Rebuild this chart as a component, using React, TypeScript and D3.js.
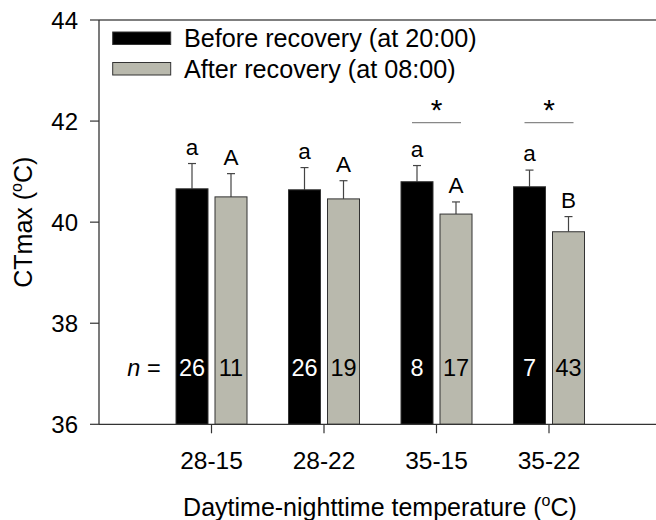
import React from "react";
import * as d3 from "d3";

const categories = ["28-15", "28-22", "35-15", "35-22"];
const seriesNames = ["Before recovery (at 20:00)", "After recovery (at 08:00)"];
const beforeMeans = [40.66, 40.64, 40.8, 40.7];
const beforeErr = [0.5, 0.44, 0.32, 0.33];
const afterMeans = [40.5, 40.46, 40.16, 39.81];
const afterErr = [0.46, 0.36, 0.24, 0.3];
const beforeLetters = ["a", "a", "a", "a"];
const afterLetters = ["A", "A", "A", "B"];
const beforeN = ["26", "26", "8", "7"];
const afterN = ["11", "19", "17", "43"];
const significant = [false, false, true, true];
const yTicks = [36, 38, 40, 42, 44];

const W = 656;
const H = 520;
const left = 99;
const top = 20;
const bottom = 424.3;
const right = 661.5;

const FONT = "'Liberation Sans', Arial, Helvetica, sans-serif";
const BLACK = "#000000";
const GRAY = "#b9b9ad";

export default function App() {
  const y = d3.scaleLinear().domain([36, 44]).range([bottom, top]);
  const xPos = d3.scaleLinear().domain([0, 5]).range([left, right]);
  const sub = d3
    .scaleBand<string>()
    .domain(["before", "after"])
    .range([-35.5, 35.5])
    .paddingInner(7 / 39);
  const bw = sub.bandwidth();
  const cap = 4;

  const series = [
    { key: "before", means: beforeMeans, errs: beforeErr, letters: beforeLetters, ns: beforeN, fill: BLACK, nColor: "#ffffff" },
    { key: "after", means: afterMeans, errs: afterErr, letters: afterLetters, ns: afterN, fill: GRAY, nColor: "#000000" },
  ];

  return (
    <svg
      width={W}
      height={H}
      style={{ position: "absolute", left: 0, top: 0, display: "block" }}
      fontFamily={FONT}
    >
      <rect x={0} y={0} width={W} height={H} fill="#ffffff" />
      {/* bars */}
      {series.map((s) =>
        categories.map((c, i) => {
          const cx = xPos(i + 1);
          const x0 = cx + (sub(s.key) as number);
          const yTop = y(s.means[i]);
          const yErr = y(s.means[i] + s.errs[i]);
          const bx = x0 + bw / 2;
          return (
            <g key={s.key + c}>
              <line x1={bx} x2={bx} y1={yTop} y2={yErr} stroke="#444" strokeWidth={1.2} />
              <line x1={bx - cap} x2={bx + cap} y1={yErr} y2={yErr} stroke="#444" strokeWidth={1.2} />
              <rect
                x={x0}
                y={yTop}
                width={bw}
                height={bottom - yTop}
                fill={s.fill}
                stroke="#333"
                strokeWidth={1}
              />
              <text
                x={bx}
                y={yErr - 9}
                textAnchor="middle"
                fontSize={22.5}
                fill="#000"
              >
                {s.letters[i]}
              </text>
              <text x={bx} y={376} textAnchor="middle" fontSize={23.5} fill={s.nColor}>
                {s.ns[i]}
              </text>
            </g>
          );
        })
      )}
      {/* significance */}
      {categories.map((c, i) =>
        significant[i] ? (
          <g key={"sig" + c}>
            <line
              x1={xPos(i + 1) - 24.5}
              x2={xPos(i + 1) + 24.5}
              y1={122.7}
              y2={122.7}
              stroke="#888"
              strokeWidth={1.3}
            />
            <text x={xPos(i + 1)} y={120} textAnchor="middle" fontSize={30} fill="#000">
              *
            </text>
          </g>
        ) : null
      )}
      {/* n = */}
      <text x={144} y={376} textAnchor="middle" fontSize={23.5} fill="#000">
        <tspan fontStyle="italic">n</tspan> =
      </text>
      {/* frame */}
      <line x1={left} x2={right} y1={top} y2={top} stroke="#555" strokeWidth={1.3} />
      <line x1={left} x2={left} y1={top} y2={bottom} stroke="#333" strokeWidth={1.3} />
      <line x1={left} x2={right} y1={bottom} y2={bottom} stroke="#333" strokeWidth={1.3} />
      {/* y ticks */}
      {yTicks.map((t) => (
        <g key={"yt" + t}>
          <line x1={left - 9} x2={left} y1={y(t)} y2={y(t)} stroke="#333" strokeWidth={1.2} />
          <text
            x={78}
            y={y(t)}
            dy="0.36em"
            textAnchor="end"
            fontSize={24}
            fill="#000"
          >
            {t}
          </text>
        </g>
      ))}
      {/* x ticks */}
      {categories.map((c, i) => (
        <g key={"xt" + c}>
          <line x1={xPos(i + 1)} x2={xPos(i + 1)} y1={bottom} y2={bottom + 9} stroke="#333" strokeWidth={1.2} />
          <text x={xPos(i + 1)} y={468.5} textAnchor="middle" fontSize={24.5} fill="#000">
            {c}
          </text>
        </g>
      ))}
      {/* axis titles */}
      <text x={380} y={516} textAnchor="middle" fontSize={25} fill="#000">
        Daytime-nighttime temperature (
        <tspan fontSize={16} dy={-10}>o</tspan>
        <tspan dy={10}>C)</tspan>
      </text>
      <text
        transform={`translate(32,${(top + bottom) / 2}) rotate(-90)`}
        textAnchor="middle"
        fontSize={25}
        fill="#000"
      >
        CTmax (
        <tspan fontSize={16} dy={-10}>o</tspan>
        <tspan dy={10}>C)</tspan>
      </text>
      {/* legend */}
      {series.map((s, k) => (
        <g key={"lg" + s.key}>
          <rect
            x={112.7}
            y={32 + k * 30.5}
            width={58}
            height={12.5}
            fill={s.fill}
            stroke="#333"
            strokeWidth={1}
          />
          <text x={184} y={47 + k * 30.5} fontSize={25.2} fill="#000">
            {seriesNames[k]}
          </text>
        </g>
      ))}
    </svg>
  );
}
